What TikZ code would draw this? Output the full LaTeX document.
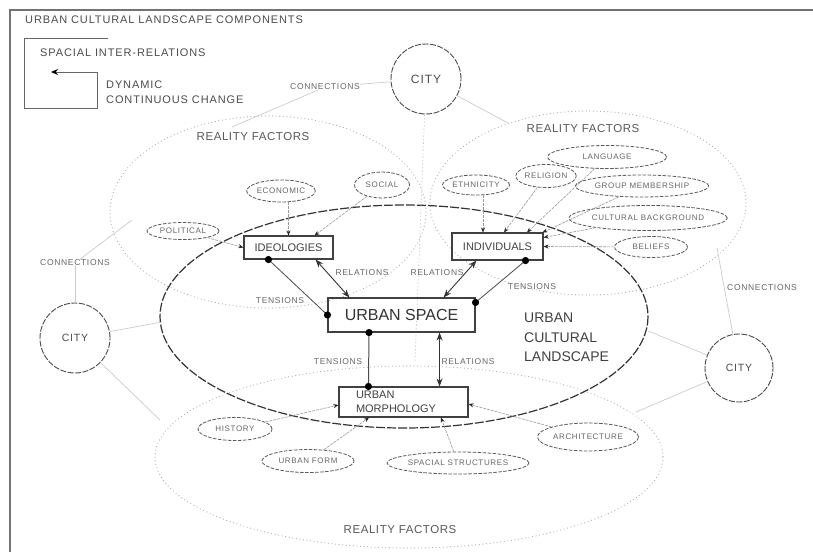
\documentclass[tikz,border=0pt]{standalone}
\usepackage{fontspec}
\setmainfont{Liberation Sans}
\newfontfamily\trk[LetterSpace=8]{Liberation Sans}
\newfontfamily\trknarrow[LetterSpace=5]{Liberation Sans}
\usetikzlibrary{arrows.meta,calc,shapes.geometric}

\begin{document}
\begin{tikzpicture}[x=1pt,y=-1pt,
  frame/.style={draw=black!55, line width=1.6pt},
  legend/.style={draw=black!60, line width=1pt},
  lbl/.style={inner sep=0pt, text=black!70},
  small/.style={inner sep=0pt, text=black!60, font=\trk\fontsize{8.5}{10}\selectfont},
  rftext/.style={inner sep=0pt, text=black!65, font=\trknarrow\fontsize{11.5}{13}\selectfont},
  comp/.style={rectangle, draw=black!75, line width=1.1pt, inner sep=0pt, text=black!75, font=\fontsize{11}{14}\selectfont},
  factor/.style={ellipse, draw=black!65, line width=0.8pt, dash pattern=on 3.5pt off 1.5pt, inner sep=0pt, text=black!60, font=\trk\fontsize{8}{10}\selectfont},
  city/.style={circle, draw=black!70, line width=0.9pt, dash pattern=on 6pt off 1.5pt, inner sep=0pt, text=black!70, font=\trk\fontsize{10.5}{12}\selectfont},
  ucl/.style={draw=black!80, line width=1.2pt, dash pattern=on 9pt off 2pt},
  rf/.style={draw=black!32, line width=1.2pt, dash pattern=on 0pt off 3.6pt, line cap=round},
  link/.style={draw=black!20, line width=0.7pt},
  feed/.style={draw=black!40, line width=0.6pt, dash pattern=on 3pt off 1pt, -{Stealth[length=5pt,width=4pt,color=black!85]}},
  rel/.style={draw=black!80, line width=0.9pt, {Stealth[length=8pt,width=6pt]}-{Stealth[length=8pt,width=6pt]}},
  tens/.style={draw=black!70, line width=0.8pt},
  dot/.style={fill=black}
]
\useasboundingbox (0,0) rectangle (813,552);
\fill[white] (0,0) rectangle (813,552);

% page frame
\draw[frame] (10,552) -- (10,10) -- (813,10);

% title and legend
\node[lbl, anchor=west, font=\trk\fontsize{11}{12}\selectfont] (title) at (25,20) {URBAN CULTURAL LANDSCAPE COMPONENTS};
\draw[legend] (108,38) -- (24,38) -- (24,108) -- (97,108) -- (97,72);
\coordinate (legA) at (97,72);
\coordinate (legB) at (51,72);
\draw[legend, -{Stealth[length=7pt,width=6pt,color=black]}] (legA) -- (legB);
\node[lbl, anchor=west, font=\trk\fontsize{11}{12}\selectfont] (legrel) at (40,53) {SPACIAL INTER-RELATIONS};
\node[lbl, anchor=north west, align=left, font=\trk\fontsize{11}{15}\selectfont] (legdyn) at (106,81) {DYNAMIC\\CONTINUOUS CHANGE};

% reality factor zones
\draw[rf] (268,212) ellipse [x radius=158, y radius=96];
\draw[rf] (588,203) ellipse [x radius=158, y radius=92];
\draw[rf] (409,457) ellipse [x radius=254, y radius=91];
\node[rftext] (rfL) at (253,137) {REALITY FACTORS};
\node[rftext] (rfR) at (583,129) {REALITY FACTORS};
\node[rftext] (rfB) at (400,530) {REALITY FACTORS};

% urban cultural landscape
\draw[ucl] (404,316.5) ellipse [x radius=244, y radius=111.5];
\node[lbl, anchor=north west, align=left, text=black!75, font=\fontsize{14}{19.5}\selectfont] (ucltext) at (524,313) {URBAN\\CULTURAL\\LANDSCAPE};

% cities
\node[city, minimum size=70pt, font=\trk\fontsize{12}{12}\selectfont] (city1) at (426,79) {CITY};
\node[city, minimum size=70pt] (city2) at (75,338) {CITY};
\node[city, minimum size=68pt] (city3) at (739,368) {CITY};
\node[small] (conn1) at (325,87) {CONNECTIONS};
\node[small] (conn2) at (75,263) {CONNECTIONS};
\node[small] (conn3) at (762,288) {CONNECTIONS};

% connections between the cities and the zones
\coordinate (lrfTop) at (232,127);
\coordinate (rrfTop) at (508,123);
\coordinate (axisEnd) at (415,362);
\coordinate (uclW) at (162,322);
\coordinate (lrfW) at (132,220);
\coordinate (brfW) at (160,420);
\coordinate (rrfE) at (717,248);
\coordinate (uclE) at (648,331);
\coordinate (brfE) at (636,412);
\draw[link] (city1) -- (conn1);
\draw[link] (conn1) -- (lrfTop);
\draw[link] (city1) -- (rrfTop);
\draw[link, dash pattern=on 1.5pt off 2pt] (city1) -- (axisEnd);
\draw[link] (city2) -- (uclW);
\draw[link] (city2) -- (conn2);
\draw[link] (conn2) -- (lrfW);
\draw[link] (city2) -- (brfW);
\draw[link] (city3) -- (rrfE);
\draw[link] (city3) -- (uclE);
\draw[link] (city3) -- (brfE);

% components
\node[comp, minimum width=89pt, minimum height=23pt] (ideo) at (288.5,247.5) {IDEOLOGIES};
\node[comp, minimum width=91pt, minimum height=27pt] (indiv) at (497.5,246.5) {INDIVIDUALS};
\node[comp, minimum width=147pt, minimum height=34pt, font=\fontsize{16}{18}\selectfont, text=black!80] (uspace) at (401.5,315) {URBAN SPACE};
\node[comp, minimum height=30pt, inner xsep=17pt, text width=95pt, align=left] (umorph) at (403.5,402) {URBAN\\MORPHOLOGY};

% factors
\node[factor, minimum width=64pt, minimum height=22pt] (econ) at (281,191) {ECONOMIC};
\node[factor, minimum width=55pt, minimum height=26pt] (social) at (382,185) {SOCIAL};
\node[factor, minimum width=72pt, minimum height=17pt] (polit) at (183,231) {POLITICAL};
\node[factor, minimum width=67pt, minimum height=20pt] (ethn) at (476,185) {ETHNICITY};
\node[factor, minimum width=60pt, minimum height=23pt] (relig) at (546,176) {RELIGION};
\node[factor, minimum width=119pt, minimum height=23pt] (lang) at (607,157) {LANGUAGE};
\node[factor, minimum width=119pt, minimum height=22pt] (group) at (642,186) {GROUP MEMBERSHIP};
\node[factor, minimum width=141pt, minimum height=25pt] (cultb) at (648,218) {CULTURAL BACKGROUND};
\node[factor, minimum width=73pt, minimum height=21pt] (belief) at (651,247) {BELIEFS};
\node[factor, minimum width=74pt, minimum height=23pt] (hist) at (235,429) {HISTORY};
\node[factor, minimum width=92pt, minimum height=23pt] (uform) at (308,461) {URBAN FORM};
\node[factor, minimum width=133pt, minimum height=22pt] (sstruct) at (458,463) {SPACIAL STRUCTURES};
\node[factor, minimum width=101pt, minimum height=28pt] (arch) at (588,437) {ARCHITECTURE};

% targets on the components
\coordinate (inEcon) at (ideo.north);
\coordinate (inSocial) at ([xshift=-19pt]ideo.north east);
\coordinate (inEthn) at ([xshift=-14.5pt]indiv.north);
\coordinate (inRelig) at ([xshift=6.5pt]indiv.north);
\coordinate (inLang) at ([xshift=29.5pt]indiv.north);
\coordinate (inGroup) at ([xshift=-1pt]indiv.north east);
\coordinate (inCult) at ([yshift=9pt]indiv.east);
\coordinate (inHist) at ([yshift=-3pt]umorph.west);
\coordinate (inForm) at ([xshift=-34.5pt]umorph.south);
\coordinate (inStruct) at ([xshift=37.5pt]umorph.south);
\coordinate (inArch) at ([yshift=-2pt]umorph.east);

% factor influences
\draw[feed] (econ.south -| inEcon) -- (inEcon);
\draw[feed] (social) -- (inSocial);
\draw[feed] (polit) -- (ideo.west);
\draw[feed] (ethn.south -| inEthn) -- (inEthn);
\draw[feed] (relig) -- (inRelig);
\draw[feed] (lang) -- (inLang);
\draw[feed] (group) -- (inGroup);
\draw[feed] (cultb) -- (inCult);
\draw[feed] (belief) -- (indiv.east);
\draw[feed] (hist) -- (inHist);
\draw[feed] (uform) -- (inForm);
\draw[feed] (sstruct) -- (inStruct);
\draw[feed] (arch) -- (inArch);

% tensions
\coordinate (tA1) at ([xshift=25pt]ideo.south west);
\coordinate (tA2) at (uspace.west);
\coordinate (tB1) at ([xshift=-18pt]indiv.south east);
\coordinate (tB2) at ([yshift=-5pt]uspace.north east);
\coordinate (tC1) at ([xshift=-32.5pt]uspace.south);
\coordinate (tC2) at ([xshift=30pt]umorph.north west);
\draw[tens] (tA1) -- (tA2);
\draw[tens] (tB1) -- (tB2);
\draw[tens, line width=1pt] (tC1) -- (tC2);
\foreach \p in {tA1,tA2,tB1,tB2,tC1,tC2} \fill[dot] (\p) circle (3.6pt);

% relations
\coordinate (rA1) at ([xshift=-18pt]ideo.south east);
\coordinate (rA2) at ([xshift=22pt]uspace.north west);
\coordinate (rB1) at ([xshift=25pt]indiv.south west);
\coordinate (rB2) at ([xshift=-32pt]uspace.north east);
\coordinate (rC1) at ([xshift=-36pt]uspace.south east);
\coordinate (rC2) at ([xshift=-29pt]umorph.north east);
\draw[rel] (rA1) -- (rA2);
\draw[rel] (rB1) -- (rB2);
\draw[rel] (rC1) -- (rC2);

% relation and tension labels
\node[small] (lrel1) at (362,273) {RELATIONS};
\node[small] (lrel2) at (437,273) {RELATIONS};
\node[small] (lrel3) at (468,362) {RELATIONS};
\node[small] (lten1) at (280,301) {TENSIONS};
\node[small] (lten2) at (532,287) {TENSIONS};
\node[small] (lten3) at (338,362) {TENSIONS};
\end{tikzpicture}
\end{document}
